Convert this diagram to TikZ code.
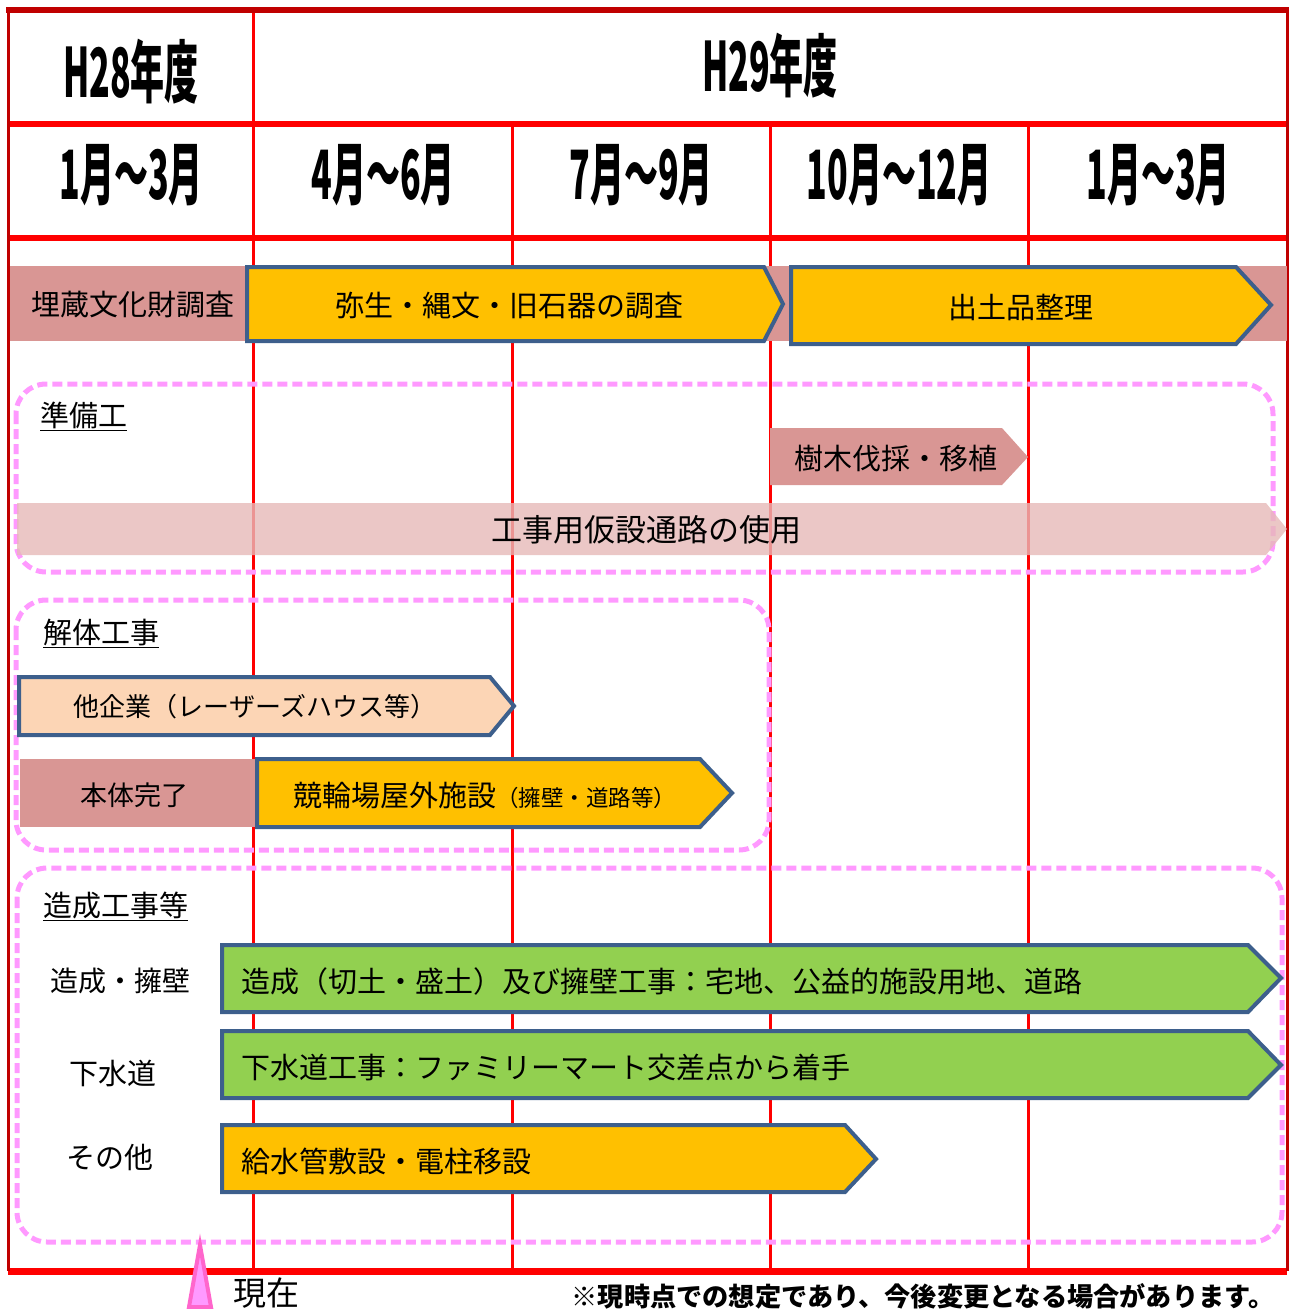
\documentclass[tikz,border=0pt]{standalone}
\usepackage{fontspec}
\usepackage{graphicx}
\usepackage{tikz}
\setmainfont{Noto Sans CJK JP}

\definecolor{darkred}{HTML}{C00000}
\definecolor{barblue}{HTML}{3D5F8C}
\definecolor{baryellow}{HTML}{FFC000}
\definecolor{bargreen}{HTML}{92D050}
\definecolor{rowpink}{HTML}{D99694}
\definecolor{roadpink}{HTML}{E6B9B8}
\definecolor{peach}{HTML}{FCD5B5}
\definecolor{boxpink}{HTML}{FF99FF}
\definecolor{markpink}{HTML}{FF66CC}

\newcommand{\cond}[1]{\scalebox{0.5}[1]{#1}}

\tikzset{
  gridline/.style={red, line width=3pt},
  hline/.style={red, line width=6pt},
  taskbar/.style={draw=barblue, line width=4pt, line join=miter},
  groupbox/.style={draw=boxpink, line width=5pt, dash pattern=on 10pt off 5pt, rounded corners=30pt},
  lbl/.style={inner sep=0pt, font=\fontsize{29}{32}\selectfont},
  head/.style={inner sep=0pt, font=\bfseries\fontsize{68}{70}\selectfont}
}

\begin{document}
\begin{tikzpicture}[x=1pt, y=-1pt]
        \useasboundingbox (0,0) rectangle (1294,1309);

        % grid
        \draw[gridline] (253,10) -- (253,1271);
        \draw[gridline] (512,124) -- (512,1271);
        \draw[gridline] (770,124) -- (770,1271);
        \draw[gridline] (1028,124) -- (1028,1271);
        \draw[hline] (8,124) -- (1287,124);
        \draw[hline] (8,238) -- (1287,238);
        \draw[red, line width=7pt] (8,1271) -- (1287,1271);
        \draw[darkred, line width=3pt] (8,10) -- (8,1271);
        \draw[darkred, line width=3pt] (1287,10) -- (1287,1271);
        \draw[darkred, line width=6pt] (6,10) -- (1289,10);

        % headers
        \node[head] (h28) at (131,72) {\cond{H28年度}};
        \node[head] (h29) at (770,66) {\cond{H29年度}};
        \node[head] (m1) at (131,175) {\cond{1月～3月}};
        \node[head] (m2) at (383,175) {\cond{4月～6月}};
        \node[head] (m3) at (641,175) {\cond{7月～9月}};
        \node[head] (m4) at (899,175) {\cond{10月～12月}};
        \node[head] (m5) at (1158,175) {\cond{1月～3月}};

        % maizou bunkazai
        \fill[rowpink] (10,266) rectangle (1287,341);
        \draw[taskbar, fill=baryellow] (247,267) -- (764,267) -- (783,304) -- (764,341) -- (247,341) -- cycle;
        \draw[taskbar, fill=baryellow] (791,267) -- (1236,267) -- (1271,305) -- (1236,344) -- (791,344) -- cycle;
        \node[lbl] (maizou) at (133,305) {埋蔵文化財調査};
        \node[lbl] (yayoi) at (509,306) {弥生・縄文・旧石器の調査};
        \node[lbl] (shutsudo) at (1021,307) {出土品整理};

        % junbikou
        \draw[groupbox] (16,384) rectangle (1273,572);
        \node[lbl, anchor=base west] (junbi) at (40,426) {\underline{準備工}};
        \fill[rowpink] (770,428) -- (1002,428) -- (1028,457) -- (1002,485) -- (770,485) -- cycle;
        \node[lbl] (jumoku) at (896,458) {樹木伐採・移植};
        \fill[roadpink, fill opacity=0.8] (17,503) -- (1266,503) -- (1287,529) -- (1266,555) -- (17,555) -- cycle;
        \node[lbl, font=\fontsize{31}{34}\selectfont] (road) at (646,530) {工事用仮設通路の使用};

        % kaitai
        \draw[groupbox] (16,600) rectangle (769,850);
        \node[lbl, anchor=base west] (kaitai) at (43,643) {\underline{解体工事}};
        \draw[taskbar, fill=peach] (19,677) -- (490,677) -- (514,706) -- (490,735) -- (19,735) -- cycle;
        \node[lbl, font=\fontsize{26}{30}\selectfont] (takigyou) at (255,707) {他企業（レーザーズハウス等）};
        \fill[rowpink] (20,759) rectangle (255,827);
        \node[lbl, font=\fontsize{27}{30}\selectfont] (hontai) at (134,795) {本体完了};
        \draw[taskbar, fill=baryellow] (257,759) -- (700,759) -- (732,793) -- (700,827) -- (257,827) -- cycle;
        \node[lbl, anchor=base west] (keirin) at (293,806) {競輪場屋外施設{\fontsize{22.5}{26}\selectfont（擁壁・道路等）}};

        % zousei
        \draw[groupbox] (17,868) rectangle (1282,1242);
        \node[lbl, anchor=base west] (zousei) at (43,916) {\underline{造成工事等}};
        \node[lbl, font=\fontsize{28}{30}\selectfont] (youheki) at (120,981) {造成・擁壁};
        \node[lbl] (gesui) at (113,1073) {下水道};
        \node[lbl] (sonota) at (110,1157) {その他};
        \draw[taskbar, fill=bargreen] (222,945) -- (1248,945) -- (1281,978) -- (1248,1012) -- (222,1012) -- cycle;
        \node[lbl, anchor=west] (zouseibar) at (241,981) {造成（切土・盛土）及び擁壁工事：宅地、公益的施設用地、道路};
        \draw[taskbar, fill=bargreen] (222,1031) -- (1248,1031) -- (1281,1065) -- (1248,1098) -- (222,1098) -- cycle;
        \node[lbl, anchor=west] (gesuibar) at (241,1067) {下水道工事：ファミリーマート交差点から着手};
        \draw[taskbar, fill=baryellow] (222,1125) -- (845,1125) -- (876,1159) -- (845,1192) -- (222,1192) -- cycle;
        \node[lbl, anchor=west] (kyuusui) at (241,1161) {給水管敷設・電柱移設};

        % genzai
        \draw[markpink, fill=boxpink, line width=4pt] (200,1245) -- (211,1307) -- (189,1307) -- cycle;
        \node[lbl, anchor=west, font=\fontsize{33}{36}\selectfont] (genzai) at (233,1293) {現在};
        \node[lbl, font=\bfseries\fontsize{26.2}{28}\selectfont] (note) at (923,1296) {※現時点での想定であり、今後変更となる場合があります。};
    \end{tikzpicture}
\end{document}
